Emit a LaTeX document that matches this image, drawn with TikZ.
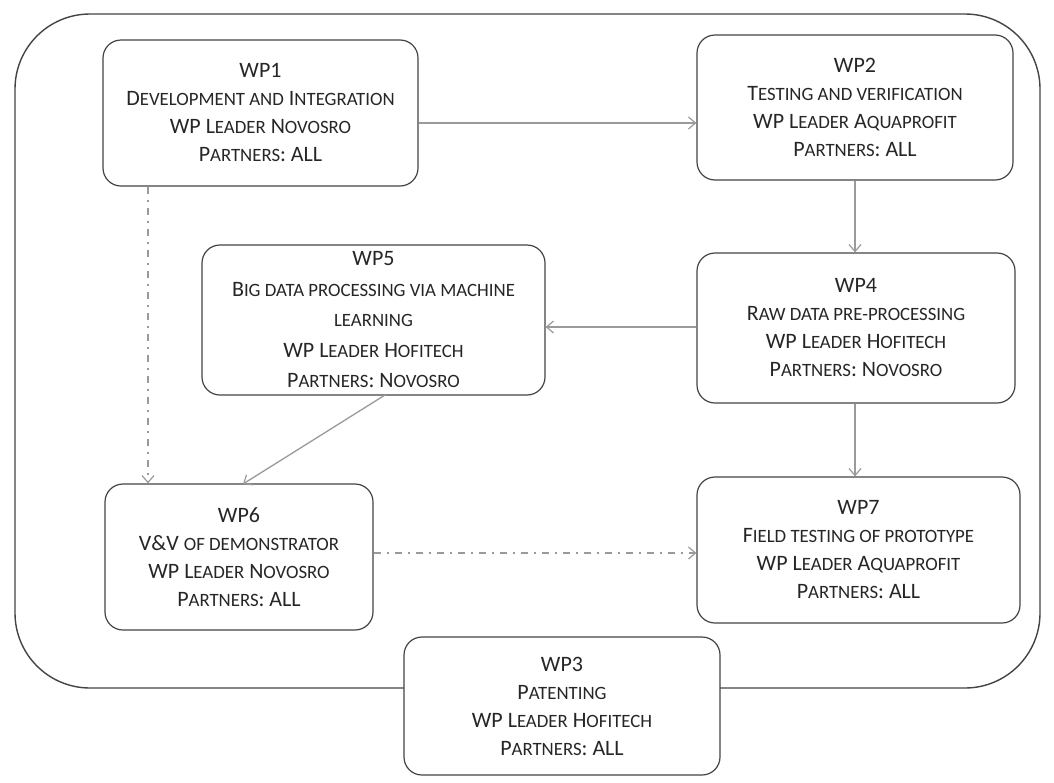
\documentclass[tikz,border=0pt]{standalone}
\usepackage{fontspec}
\setmainfont{Carlito}
\usetikzlibrary{arrows.meta}
\definecolor{boxline}{HTML}{444444}
\definecolor{txt}{HTML}{262626}
\definecolor{arr}{HTML}{9A9A9A}
\newcommand\sm[1]{{\fontsize{18.8}{28}\selectfont #1}}
\tikzset{
  wpbox/.style={draw=boxline, line width=1.2pt, rounded corners=18pt, fill=white,
    align=center, text=txt, font=\fontsize{22}{28}\selectfont, inner sep=0pt},
  flow/.style={draw=arr, line width=1.3pt, -{Straight Barb[length=7pt,width=12pt,line width=1.2pt]}},
  flowdd/.style={flow, dash pattern=on 7pt off 6pt on 2pt off 6pt}
}
\begin{document}
\begin{tikzpicture}[x=1pt,y=-1pt]
\useasboundingbox (0,0) rectangle (1054,782);
\fill[white] (0,0) rectangle (1054,782);
% outer frame
\draw[boxline, line width=1.4pt, rounded corners=75pt] (15,14) rectangle (1040,688);
% boxes
\node[wpbox, minimum width=315pt, minimum height=146pt] (wp1) at (260.5,113)
  {WP1\\D\sm{EVELOPMENT AND} I\sm{NTEGRATION}\\WP L\sm{EADER} N\sm{OVOSRO}\\P\sm{ARTNERS}: ALL};
\node[wpbox, minimum width=316pt, minimum height=145pt] (wp2) at (855,107.5)
  {WP2\\T\sm{ESTING AND VERIFICATION}\\WP L\sm{EADER} A\sm{QUAPROFIT}\\P\sm{ARTNERS}: ALL};
\node[wpbox, minimum width=343pt, minimum height=150pt, font=\fontsize{22}{30.5}\selectfont] (wp5) at (373.5,320)
  {WP5\\B\sm{IG DATA PROCESSING VIA MACHINE}\\\sm{LEARNING}\\WP L\sm{EADER} H\sm{OFITECH}\\P\sm{ARTNERS}: N\sm{OVOSRO}};
\node[wpbox, minimum width=318pt, minimum height=150pt] (wp4) at (856,328)
  {WP4\\R\sm{AW DATA PRE-PROCESSING}\\WP L\sm{EADER} H\sm{OFITECH}\\P\sm{ARTNERS}: N\sm{OVOSRO}};
\node[wpbox, minimum width=268pt, minimum height=146pt] (wp6) at (239,557)
  {WP6\\V\&V \sm{OF DEMONSTRATOR}\\WP L\sm{EADER} N\sm{OVOSRO}\\P\sm{ARTNERS}: ALL};
\node[wpbox, minimum width=323pt, minimum height=146pt] (wp7) at (858.5,550)
  {WP7\\F\sm{IELD TESTING OF PROTOTYPE}\\WP L\sm{EADER} A\sm{QUAPROFIT}\\P\sm{ARTNERS}: ALL};
\node[wpbox, minimum width=316pt, minimum height=138pt] (wp3) at (562,706)
  {WP3\\P\sm{ATENTING}\\WP L\sm{EADER} H\sm{OFITECH}\\P\sm{ARTNERS}: ALL};
% connectors
\draw[flow] (wp1.east |- 0,123) -- (wp2.west |- 0,123);
\draw[flow] (wp2.south -| 855,0) -- (wp4.north -| 855,0);
\draw[flow] (wp4.west |- 0,327) -- (wp5.east |- 0,327);
\draw[flow] (wp4.south -| 855,0) -- (wp7.north -| 855,0);
\coordinate (c5) at (385,395);
\coordinate (c6) at (243,484);
\draw[flow] (c5) -- (c6);
\draw[flowdd] (wp1.south -| 148,0) -- (wp6.north -| 148,0);
\draw[flowdd] (wp6.east |- 0,553) -- (wp7.west |- 0,553);
\end{tikzpicture}
\end{document}
